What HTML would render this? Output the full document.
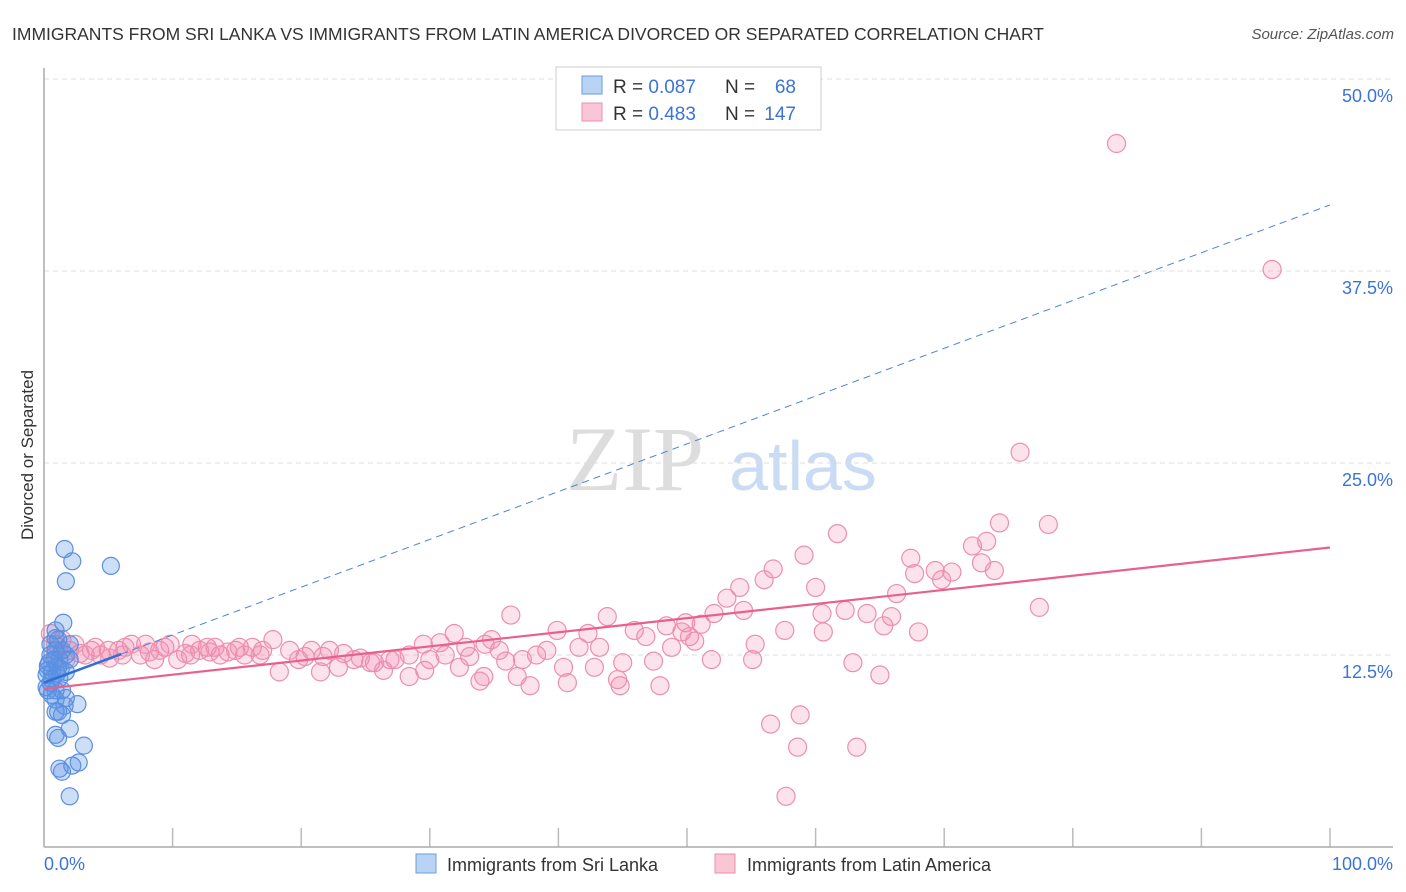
<!DOCTYPE html>
<html><head><meta charset="utf-8"><style>
body{margin:0;background:#fff;font-family:"Liberation Sans",sans-serif;}
svg{display:block}
</style></head><body>
<svg id="chart" width="1406" height="892" viewBox="0 0 1406 892">
<text x="12" y="40" font-size="17.5" fill="#333">IMMIGRANTS FROM SRI LANKA VS IMMIGRANTS FROM LATIN AMERICA DIVORCED OR SEPARATED CORRELATION CHART</text>
<text x="1394" y="39" font-size="15" fill="#555" font-style="italic" text-anchor="end">Source: ZipAtlas.com</text>
<g>
<text x="635" y="490" font-size="92" fill="#ddd" font-family="Liberation Serif,serif" text-anchor="middle">ZIP</text>
<text x="803" y="490" font-size="70" fill="#c9dcf3" text-anchor="middle">atlas</text>
</g>
<g id="grid"></g>
<line x1="44" y1="68" x2="44" y2="847" stroke="#aaa" stroke-width="1.5"/>
<line x1="44" y1="847" x2="1393" y2="847" stroke="#aaa" stroke-width="1.5"/>
<text transform="translate(33,455) rotate(-90)" font-size="17" fill="#333" text-anchor="middle">Divorced or Separated</text>
<text x="44" y="870" font-size="18" fill="#3b74d6">0.0%</text>
<text x="1393" y="870" font-size="18" fill="#3b74d6" text-anchor="end">100.0%</text>
<g id="marks"></g>
<g>
<rect x="556" y="67" width="265" height="63" fill="#fff" stroke="#ccc"/>
<rect x="582" y="76" width="20" height="18" fill="#b9d3f5" stroke="#6a9be0"/>
<rect x="582" y="103" width="20" height="18" fill="#f9c6d6" stroke="#ec8fae"/>
<text x="613" y="93" font-size="19" fill="#333">R = <tspan fill="#3b74d6">0.087</tspan></text>
<text x="725" y="93" font-size="19" fill="#333">N = </text><text x="796" y="93" font-size="19" fill="#3b74d6" text-anchor="end">68</text>
<text x="613" y="120" font-size="19" fill="#333">R = <tspan fill="#3b74d6">0.483</tspan></text>
<text x="725" y="120" font-size="19" fill="#333">N = </text><text x="796" y="120" font-size="19" fill="#3b74d6" text-anchor="end">147</text>
</g>
<g>
<rect x="416" y="854" width="20" height="19" fill="#b9d3f5" stroke="#6a9be0"/>
<text x="447" y="871" font-size="18" fill="#333">Immigrants from Sri Lanka</text>
<rect x="715" y="854" width="20" height="19" fill="#f9c6d6" stroke="#ec8fae"/>
<text x="747" y="871" font-size="18" fill="#333">Immigrants from Latin America</text>
</g>
</svg>
<script>
const yTicks=[12.5,25,37.5,50];
const yTickLabels=["12.5%","25.0%","37.5%","50.0%"];
const xTicks=[10,20,30,40,50,60,70,80,90,100];
const pinkX=[83.4,95.5,75.9,74.3,78.1,61.7,59.1,67.4,56.7,54.1,56.0,60.0,67.7,69.3,70.6,69.8,72.2,73.3,72.9,73.9,66.3,53.1,54.4,52.1,60.5,62.3,64.0,65.9,77.4,65.3,68.0,51.1,49.9,48.4,49.6,50.2,50.6,45.9,46.8,43.8,42.3,39.9,36.3,34.8,31.9,30.8,29.5,43.2,41.6,39.1,38.3,35.4,32.8,35.9,37.2,40.4,42.8,45.0,47.4,48.8,55.3,57.6,60.6,55.1,51.9,62.9,65.0,28.4,26.9,25.4,24.1,23.3,21.7,20.8,19.8,18.3,21.5,22.9,26.4,28.4,29.6,32.3,33.9,36.8,37.8,40.7,44.6,44.8,47.9,34.2,56.5,58.8,58.6,63.2,57.7,17.8,16.2,14.9,13.7,12.7,11.5,10.4,9.0,7.5,6.1,5.0,3.7,2.8,2.0,1.1,0.5,0.9,1.7,4.4,5.8,6.8,8.2,9.4,11.0,12.1,13.3,14.3,15.6,17.0,19.1,20.3,22.2,24.6,25.7,27.3,30.0,31.2,33.1,34.3,0.9,1.4,2.4,3.2,4.0,5.1,6.3,7.9,8.6,9.8,11.4,12.9,15.2,16.8];
const pinkY=[45.8,37.6,25.7,21.1,21.0,20.4,19.0,18.8,18.1,16.9,17.4,16.9,17.8,18.0,17.9,17.4,19.6,19.9,18.5,18.0,16.5,16.2,15.4,15.2,15.2,15.4,15.2,15.0,15.6,14.4,14.0,14.5,14.6,14.4,14.0,13.7,13.4,14.1,13.7,15.0,13.9,14.1,15.1,13.5,13.9,13.3,13.2,13.0,13.0,12.8,12.5,12.8,13.0,12.1,12.2,11.7,11.7,12.0,12.1,13.0,13.2,14.1,14.0,12.2,12.2,12.0,11.2,12.5,12.2,12.0,12.2,12.6,12.4,12.8,12.2,11.4,11.4,11.7,11.5,11.1,11.5,11.7,10.8,11.1,10.5,10.7,10.9,10.5,10.5,11.1,8.0,8.6,6.5,6.5,3.3,13.5,13.0,12.8,12.5,13.0,13.2,12.2,12.8,12.5,12.5,12.8,12.8,12.6,12.8,13.0,13.9,13.2,12.2,12.5,12.8,13.2,12.7,13.0,12.6,12.8,13.0,12.7,12.5,12.8,12.8,12.4,12.8,12.3,12.0,12.2,12.2,12.5,12.4,13.2,12.5,13.5,13.2,12.5,13.0,12.3,13.0,13.2,12.2,13.2,12.5,12.7,13.0,12.5];
const blueX=[1.6,2.2,1.7,5.2,1.5,0.9,1.1,1.4,0.5,0.8,0.3,1.1,0.6,0.2,1.2,0.5,0.2,0.9,1.7,2.0,1.4,1.7,0.9,2.6,1.1,1.4,0.9,2.0,0.9,1.1,3.1,2.7,2.2,1.2,1.4,2.0,0.3,0.6,1.6,0.9,1.2,1.7,0.5,0.9,2.0,0.3,0.6,1.0,0.4,1.3];
const blueY=[19.4,18.6,17.3,18.3,14.6,14.1,13.5,12.8,12.5,12.2,11.8,11.7,11.4,11.2,11.0,10.7,10.4,10.2,11.4,12.2,10.2,9.7,9.6,9.3,8.8,8.6,8.8,7.7,7.3,7.1,6.6,5.5,5.3,5.1,4.9,3.3,10.2,9.9,9.2,12.8,12.2,12.5,13.2,13.6,13.2,11.5,10.9,11.3,12.0,11.6];
const pinkTrend=[0,10.3,100,19.5];
const blueTrend=[0,10.7,6,12.56];
const blueDash=[6,12.56,100,41.8];
const NS="http://www.w3.org/2000/svg";
const X=v=>44+v*12.86, Y=v=>847-v*15.36;
const grid=document.getElementById('grid'), marks=document.getElementById('marks');
function mk(tag,attrs,parent){const e=document.createElementNS(NS,tag);for(const k in attrs)e.setAttribute(k,attrs[k]);parent.appendChild(e);return e;}
yTicks.forEach((t,i)=>{
 const l=mk('line',{x1:44,x2:1393,y1:Y(t),y2:Y(t),stroke:'#ddd','stroke-dasharray':'5,4'},grid);
 
 
 const tx=mk('text',{x:1393,y:Y(t)+23,'font-size':18,fill:'#3b74d6','text-anchor':'end'},grid);
 tx.textContent=yTickLabels[i];
 
 
});
xTicks.forEach(t=>{
 const l=mk('line',{x1:X(t),x2:X(t),y1:828,y2:847,stroke:'#bbb','stroke-width':1.5},grid);
 
 
});
pinkX.forEach((v,i)=>{
 const c=mk('circle',{cx:X(v),cy:Y(pinkY[i]),r:9,fill:'rgba(241,140,175,0.25)',stroke:'#ec8fae','stroke-width':1.2},marks);
 
 
});
blueX.forEach((v,i)=>{
 const c=mk('circle',{cx:X(v),cy:Y(blueY[i]),r:8.5,fill:'rgba(90,145,230,0.3)',stroke:'#5b8fe0','stroke-width':1.2},marks);
 
 
});
const pl=mk('line',{x1:X(pinkTrend[0]),y1:Y(pinkTrend[1]),x2:X(pinkTrend[2]),y2:Y(pinkTrend[3]),stroke:'#e8608e','stroke-width':2.2},marks);


const bd=mk('line',{x1:X(blueDash[0]),y1:Y(blueDash[1]),x2:X(blueDash[2]),y2:Y(blueDash[3]),stroke:'#4a84dc','stroke-width':1,'stroke-dasharray':'7,5'},marks);


const bl=mk('line',{x1:X(blueTrend[0]),y1:Y(blueTrend[1]),x2:X(blueTrend[2]),y2:Y(blueTrend[3]),stroke:'#2f6fd6','stroke-width':2.5},marks);


</script>
</body></html>
